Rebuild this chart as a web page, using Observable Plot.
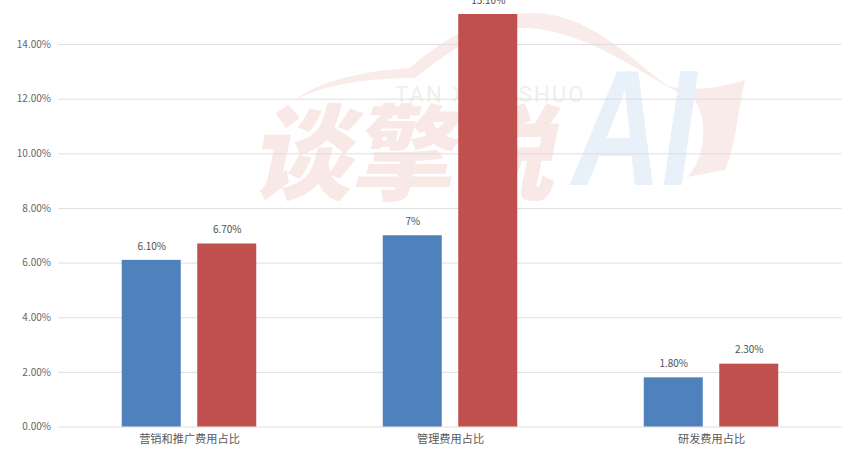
<!DOCTYPE html>
<html>
<head>
<meta charset="utf-8">
<script src="https://cdn.jsdelivr.net/npm/d3@7"></script>
<script src="https://cdn.jsdelivr.net/npm/@observablehq/plot@0.6"></script>
<style>
html,body{margin:0;padding:0;background:#fff;overflow:hidden}
#wrap{position:relative;width:852px;height:450px}
#wm{position:absolute;left:0;top:0}
#chart{position:absolute;left:0;top:0}
</style>
</head>
<body>
<div id="wrap">
<svg id="wm" width="852" height="450" xmlns="http://www.w3.org/2000/svg">
  <path d="M295 100 C320 80 370 70 410 68 C430 50 480 13 530 13 C590 13 625 55 668 86 C690 92 720 88 745 80 C738 110 735 150 725 170 L687 177 C700 165 712 130 695 100 C650 82 600 35 530 28 C480 26 445 55 415 78 C370 78 325 84 295 100 Z" fill="#f8ebe9"/>
  <text x="395" y="102" font-family="Roboto, sans-serif" font-size="22" letter-spacing="1.5" fill="#f2eeec" textLength="190" lengthAdjust="spacing">TAN XING SHUO</text>
  <text x="250" y="192" font-family="'Noto Sans CJK SC', sans-serif" font-weight="900" font-size="104" fill="#f8e8e6" textLength="305" lengthAdjust="spacingAndGlyphs" transform="skewX(-12) translate(40,0)">谈擎说</text>
  <text x="572" y="185" font-family="'Liberation Sans', sans-serif" font-weight="700" font-style="italic" font-size="165" fill="#e8f0f9" textLength="124" lengthAdjust="spacingAndGlyphs">AI</text>
</svg>
<div id="chart"></div>
</div>
<script>
const categories = ["营销和推广费用占比", "管理费用占比", "研发费用占比"];
const seriesNames = ["系列1", "系列2"];
const series1 = [6.1, 7, 1.8];
const series2 = [6.7, 15.1, 2.3];
const labels1 = ["6.10%", "7%", "1.80%"];
const labels2 = ["6.70%", "15.10%", "2.30%"];
const yTicks = [0, 2, 4, 6, 8, 10, 12, 14];
const colors = ["#4F81BD", "#C0504D"];

const rows = categories.flatMap((c, i) => [
  {category: c, series: seriesNames[0], value: series1[i], label: labels1[i]},
  {category: c, series: seriesNames[1], value: series2[i], label: labels2[i]}
]);

const font = "'Noto Sans CJK SC', 'Noto Sans', sans-serif";
const plot = Plot.plot({
  width: 852,
  height: 450,
  marginTop: 14,
  marginBottom: 23.5,
  marginLeft: 58.5,
  marginRight: 10.5,
  style: {background: "transparent", fontFamily: font, overflow: "hidden"},
  fx: {domain: categories, padding: 0, round: false, label: null},
  x: {domain: seriesNames, axis: null, paddingInner: 0.2185, paddingOuter: 0.838, round: false},
  y: {domain: [0, 15.1], label: null},
  color: {domain: seriesNames, range: colors},
  marks: [
    Plot.gridY(yTicks, {stroke: "#dedede", strokeOpacity: 1, strokeWidth: 1}),
    Plot.axisY({ticks: yTicks, tickSize: 0, tickPadding: 8, label: null, fontSize: 10, fill: "#666666", tickFormat: d => d.toFixed(2) + "%"}),
    Plot.axisFx({anchor: "bottom", tickSize: 0, tickPadding: 8, label: null, fontSize: 11.2, fill: "#595959"}),
    Plot.barY(rows, {fx: "category", x: "series", y: "value", fill: "series"}),
    Plot.text(rows, {fx: "category", x: "series", y: "value", text: "label", dy: -14, fontSize: 10, fill: "#505050"})
  ]
});
document.getElementById("chart").append(plot);
</script>
</body>
</html>
